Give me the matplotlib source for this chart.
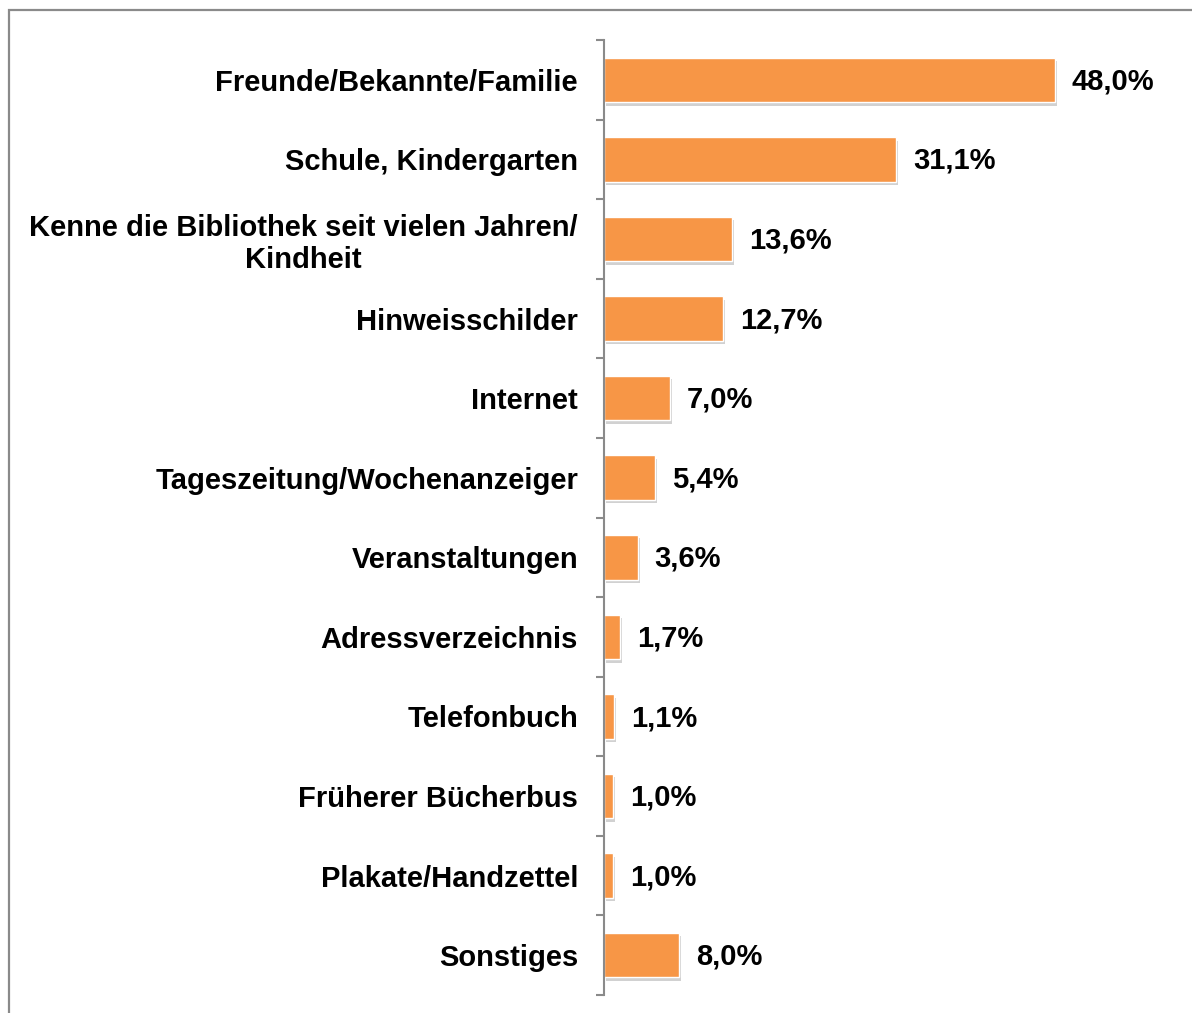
"""Woher kennen Sie die Bibliothek? - horizontales Balkendiagramm"""
import matplotlib
matplotlib.use('Agg')
from matplotlib import pyplot as plt
from matplotlib import patheffects
from matplotlib.patches import Rectangle

# Kategorien und Anteile in Prozent (von oben nach unten)
categories = [
    'Freunde/Bekannte/Familie',
    'Schule, Kindergarten',
    'Kenne die Bibliothek seit vielen Jahren/\nKindheit',
    'Hinweisschilder',
    'Internet',
    'Tageszeitung/Wochenanzeiger',
    'Veranstaltungen',
    'Adressverzeichnis',
    'Telefonbuch',
    'Früherer Bücherbus',
    'Plakate/Handzettel',
    'Sonstiges',
]
values = [48.0, 31.1, 13.6, 12.7, 7.0, 5.4, 3.6, 1.7, 1.1, 1.0, 1.0, 8.0]

plt.rcParams['font.family'] = ['Liberation Sans', 'DejaVu Sans']

fig = plt.figure(figsize=(11.92, 10.13), dpi=100)
W, H = 1192, 1013
ax = fig.add_axes([604 / W, 1 - 995 / H, 545 / W, 955 / H])

# grauer Rahmen um das Diagramm (rechts und unten abgeschnitten)
fig.patches.append(Rectangle((8.5 / W, -0.02), 1.05, 1 - 9.5 / H + 0.02,
                             transform=fig.transFigure, fill=False,
                             edgecolor='#8a8a8a', linewidth=1.6))

pos = list(range(len(categories)))
shadow = [patheffects.SimplePatchShadow(offset=(1.5, -2.5), shadow_rgbFace='#8c8c8c', alpha=0.4),
          patheffects.Normal()]
bars = ax.barh(pos, values, height=0.56, color='#F79646', edgecolor='white', linewidth=1.0)
for b in bars:
    b.set_path_effects(shadow)

for p, v in zip(pos, values):
    ax.text(v + 1.8, p + 0.02, f'{v:.1f}'.replace('.', ',') + '%', ha='left', va='center',
            fontsize=21, fontweight='bold', color='black')

ax.set_xlim(0, 58)
ax.set_ylim(len(categories) - 0.5, -0.5)

# Achse formatieren
for s in ['top', 'right', 'bottom']:
    ax.spines[s].set_visible(False)
ax.spines['left'].set_color('#8a8a8a')
ax.spines['left'].set_linewidth(1.5)
ax.set_xticks([])
ax.set_yticks(pos)
ax.set_yticklabels(categories, fontsize=21, fontweight='bold', linespacing=1.2,
                   multialignment='center')
ax.set_yticks([p - 0.5 for p in pos] + [len(pos) - 0.5], minor=True)
ax.tick_params(axis='y', which='major', length=0, pad=18.7)
ax.tick_params(axis='y', which='minor', length=6, width=1.5, color='#8a8a8a')
ax.patch.set_alpha(0)

fig.savefig('out.png', dpi=100)
